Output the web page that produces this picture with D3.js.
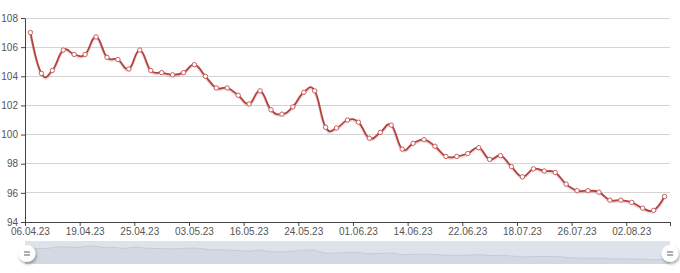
<!DOCTYPE html>
<html>
<head>
<meta charset="utf-8">
<script src="https://cdn.jsdelivr.net/npm/d3@7"></script>
<style>
  body { margin: 0; background: #fff; }
  text { font-family: "Liberation Sans", Arial, sans-serif; }
</style>
</head>
<body>
<script>
// dates (categories), one per point
var dates = ["06.04.23","10.04.23","12.04.23","14.04.23","17.04.23",
  "19.04.23","20.04.23","21.04.23","23.04.23","24.04.23",
  "25.04.23","26.04.23","27.04.23","28.04.23","02.05.23",
  "03.05.23","05.05.23","08.05.23","10.05.23","12.05.23",
  "16.05.23","17.05.23","19.05.23","22.05.23","23.05.23",
  "24.05.23","25.05.23","26.05.23","29.05.23","31.05.23",
  "01.06.23","05.06.23","07.06.23","09.06.23","12.06.23",
  "14.06.23","15.06.23","16.06.23","19.06.23","21.06.23",
  "22.06.23","26.06.23","30.06.23","06.07.23","12.07.23",
  "18.07.23","19.07.23","20.07.23","21.07.23","24.07.23",
  "26.07.23","27.07.23","28.07.23","31.07.23","01.08.23",
  "02.08.23","03.08.23","04.08.23","07.08.23"];
var values = [107.0,104.2,104.4,105.8,105.5,105.5,106.7,105.3,105.15,104.5,
  105.8,104.4,104.25,104.1,104.25,104.8,104.0,103.2,103.2,102.7,
  102.1,103.0,101.7,101.4,101.9,102.9,103.0,100.5,100.45,101.0,
  100.85,99.75,100.15,100.65,99.0,99.4,99.65,99.2,98.5,98.5,
  98.7,99.1,98.3,98.55,97.8,97.1,97.65,97.5,97.4,96.6,
  96.15,96.15,96.05,95.5,95.5,95.35,94.95,94.8,95.75];
var yTicks = [94, 96, 98, 100, 102, 104, 106, 108];
var labelEvery = 5;

var W = 680, H = 273;
var svg = d3.select("body").append("svg").attr("width", W).attr("height", H);

var gLeft = 25, gRight = 670, gTop = 18, gBottom = 222;

var x = d3.scaleBand().domain(d3.range(dates.length)).range([gLeft, gRight]).padding(0);
var xb = d3.scaleLinear().domain([0, dates.length]).range([gLeft, gRight]);
var y = d3.scaleLinear().domain([94, 108]).range([gBottom, gTop]);
var cx = function(i) { return x(i) + x.bandwidth() / 2; };

// grid
svg.append("g").selectAll("line")
  .data(yTicks.filter(function(d) { return d > 94; }))
  .enter().append("line")
  .attr("x1", gLeft).attr("x2", gRight)
  .attr("y1", function(d) { return y(d); }).attr("y2", function(d) { return y(d); })
  .attr("stroke", "#d4d4d4").attr("stroke-width", 1).attr("shape-rendering", "crispEdges");

// y axis
var gy = svg.append("g").attr("transform", "translate(" + gLeft + ",0)")
  .call(d3.axisLeft(y).tickValues(yTicks).tickSize(4).tickSizeOuter(0).tickPadding(3));
gy.select(".domain").attr("stroke", "#444");
gy.selectAll(".tick line").attr("stroke", "#444");
gy.selectAll("text").attr("fill", "#555").attr("font-size", 10);

// x axis: ticks on band boundaries, labels at band centres
var tickIdx = d3.range(0, dates.length, labelEvery).concat([dates.length]);
var gx = svg.append("g").attr("transform", "translate(0," + gBottom + ")")
  .call(d3.axisBottom(xb).tickValues(tickIdx).tickSize(4).tickSizeOuter(0).tickFormat(""));
gx.select(".domain").attr("stroke", "#444");
gx.selectAll(".tick line").attr("stroke", "#444");

var gxl = svg.append("g").attr("transform", "translate(0," + gBottom + ")")
  .call(d3.axisBottom(x).tickValues(d3.range(0, dates.length, labelEvery))
    .tickFormat(function(i) { return dates[i]; }).tickSize(0).tickPadding(6));
gxl.select(".domain").remove();
gxl.selectAll("text").attr("fill", "#555").attr("font-size", 10);

// line
var line = d3.line()
  .x(function(d, i) { return cx(i); })
  .y(function(d) { return y(d); })
  .curve(d3.curveCardinal.tension(-0.3));

svg.append("path").datum(values)
  .attr("d", line).attr("fill", "none")
  .attr("stroke", "rgba(120,30,30,0.15)").attr("stroke-width", 3)
  .attr("transform", "translate(0,1)");
svg.append("path").datum(values)
  .attr("d", line).attr("fill", "none")
  .attr("stroke", "#b5403e").attr("stroke-width", 1.8);

svg.append("g").selectAll("circle").data(values).enter().append("circle")
  .attr("cx", function(d, i) { return cx(i); })
  .attr("cy", function(d) { return y(d); })
  .attr("r", 2.2)
  .attr("fill", "#fff").attr("stroke", "#c9605c").attr("stroke-width", 1);

// data zoom slider
var zTop = 241, zBottom = 264;
svg.append("rect").attr("x", gLeft).attr("y", zTop)
  .attr("width", gRight - gLeft).attr("height", zBottom - zTop)
  .attr("fill", "#dde3eb");

var ext = d3.extent(values), pad = (ext[1] - ext[0]) * 0.3;
var zy = d3.scaleLinear().domain([ext[0] - pad, ext[1] + pad]).range([zBottom, zTop]);
var zx = d3.scaleLinear().domain([0, values.length - 1]).range([gLeft, gRight]);
svg.append("path").datum(values)
  .attr("d", d3.area().x(function(d, i) { return zx(i); }).y0(zBottom).y1(function(d) { return zy(d); }))
  .attr("fill", "rgba(47,69,84,0.06)");
svg.append("path").datum(values)
  .attr("d", d3.line().x(function(d, i) { return zx(i); }).y(function(d) { return zy(d); }))
  .attr("fill", "none").attr("stroke", "rgba(47,69,84,0.15)").attr("stroke-width", 0.8);

var defs = svg.append("defs");
var f = defs.append("filter").attr("id", "hs").attr("x", "-50%").attr("y", "-50%").attr("width", "200%").attr("height", "200%");
f.append("feDropShadow").attr("dx", 1).attr("dy", 2).attr("stdDeviation", 1.5).attr("flood-color", "#000").attr("flood-opacity", 0.35);

[gLeft + 2, gRight].forEach(function(hx) {
  var h = svg.append("g").attr("transform", "translate(" + hx + "," + ((zTop + zBottom) / 2 + 1) + ")");
  h.append("circle").attr("r", 8.5).attr("fill", "#fff").attr("filter", "url(#hs)");
  h.append("line").attr("x1", -3).attr("x2", 3).attr("y1", -1.5).attr("y2", -1.5).attr("stroke", "#777").attr("stroke-width", 1.2);
  h.append("line").attr("x1", -3).attr("x2", 3).attr("y1", 1.5).attr("y2", 1.5).attr("stroke", "#777").attr("stroke-width", 1.2);
});
</script>
</body>
</html>
